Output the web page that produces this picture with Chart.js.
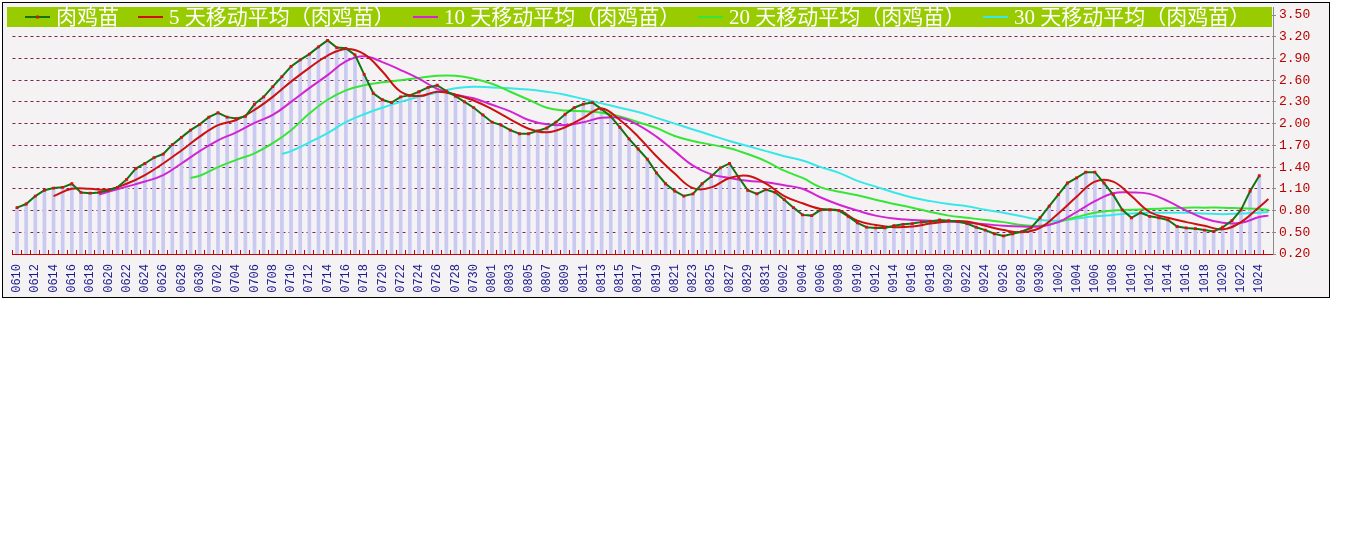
<!DOCTYPE html>
<html>
<head>
<meta charset="utf-8">
<script src="https://cdn.jsdelivr.net/npm/chart.js@4"></script>
<style>
html, body { margin: 0; padding: 0; background: #fff; }
#frame { position: absolute; left: 2px; top: 2px; width: 1326px; height: 294px; border: 1px solid #000; background: #f4f2f2; }
canvas { display: block; }
</style>
</head>
<body>
<div id="frame"><canvas id="chart" width="1326" height="294"></canvas></div>
<script>
// dates on the x axis (MMDD)
const junDays = ['0610','0611','0612','0613','0614','0615','0616','0617','0618','0619','0620','0621','0622','0623','0624','0625','0626','0627','0628','0629','0630'];
const julDays = ['0701','0702','0703','0704','0705','0706','0707','0708','0709','0710','0711','0712','0713','0714','0715','0716','0717','0718','0719','0720','0721','0722','0723','0724','0725','0726','0727','0728','0729','0730','0731'];
const augDays = ['0801','0802','0803','0804','0805','0806','0807','0808','0809','0810','0811','0812','0813','0814','0815','0816','0817','0818','0819','0820','0821','0822','0823','0824','0825','0826','0827','0828','0829','0830','0831'];
const sepDays = ['0901','0902','0903','0904','0905','0906','0907','0908','0909','0910','0911','0912','0913','0914','0915','0916','0917','0918','0919','0920','0921','0922','0923','0924','0925','0926','0927','0928','0929','0930'];
const octDays = ['1001','1002','1003','1004','1005','1006','1007','1008','1009','1010','1011','1012','1013','1014','1015','1016','1017','1018','1019','1020','1021','1022','1023','1024','1025'];
const dates = [...junDays, ...julDays, ...augDays, ...sepDays, ...octDays];

// daily price, 0610 .. 1024
const price = [
  0.84, 0.89, 1.00, 1.08, 1.11, 1.12, 1.17, 1.05, 1.04, 1.05,
  1.08, 1.12, 1.23, 1.38, 1.45, 1.53, 1.58, 1.71, 1.81, 1.91,
  1.99, 2.09, 2.15, 2.09, 2.07, 2.10, 2.27, 2.37, 2.51, 2.65,
  2.79, 2.88, 2.96, 3.06, 3.15, 3.05, 3.04, 2.95, 2.68, 2.42,
  2.33, 2.29, 2.37, 2.39, 2.44, 2.50, 2.53, 2.45, 2.38, 2.30,
  2.22, 2.12, 2.02, 1.98, 1.91, 1.86, 1.86, 1.90, 1.94, 2.02,
  2.13, 2.22, 2.27, 2.29, 2.20, 2.10, 1.95, 1.79, 1.65, 1.51,
  1.32, 1.17, 1.07, 1.00, 1.03, 1.17, 1.27, 1.39, 1.45, 1.26,
  1.08, 1.03, 1.09, 1.05, 0.95, 0.84, 0.74, 0.73, 0.81, 0.81,
  0.80, 0.72, 0.63, 0.57, 0.56, 0.56, 0.59, 0.61, 0.62, 0.64,
  0.65, 0.67, 0.66, 0.65, 0.62, 0.57, 0.53, 0.48, 0.45, 0.48,
  0.51, 0.56, 0.70, 0.86, 1.02, 1.18, 1.25, 1.33, 1.33, 1.18,
  1.02, 0.81, 0.70, 0.77, 0.72, 0.70, 0.67, 0.58, 0.56, 0.55,
  0.53, 0.51, 0.57, 0.66, 0.81, 1.07, 1.28
];

// moving averages, read at every other day
const ma5 = [
  ['0614',1.00],['0616',1.10],['0618',1.10],['0620',1.09],['0622',1.17],['0624',1.29],['0626',1.45],['0628',1.63],['0630',1.82],
  ['0702',1.98],['0704',2.05],['0706',2.19],['0708',2.37],['0710',2.58],['0712',2.77],['0714',2.94],['0716',3.03],['0718',2.96],
  ['0720',2.72],['0722',2.44],['0724',2.38],['0726',2.44],['0728',2.40],['0730',2.32],['0801',2.20],['0803',2.06],['0805',1.93],
  ['0807',1.88],['0809',1.95],['0811',2.08],['0813',2.21],['0815',2.05],['0817',1.82],['0819',1.55],['0821',1.31],['0823',1.11],
  ['0825',1.12],['0827',1.25],['0829',1.28],['0831',1.17],['0902',1.00],['0904',0.90],['0906',0.82],['0908',0.80],['0910',0.66],
  ['0912',0.60],['0914',0.57],['0916',0.58],['0918',0.62],['0920',0.65],['0922',0.65],['0924',0.59],['0926',0.53],['0928',0.50],
  ['0930',0.56],['1002',0.76],['1004',0.99],['1006',1.20],['1008',1.20],['1010',1.00],['1012',0.78],['1014',0.70],['1016',0.64],
  ['1018',0.59],['1020',0.54],['1022',0.64],['1024',0.85],['1025',0.96]
];
const ma10 = [
  ['0619',1.02],['0620',1.06],['0622',1.13],['0624',1.20],['0626',1.29],['0628',1.45],['0630',1.62],['0702',1.77],['0704',1.88],
  ['0706',2.01],['0708',2.12],['0710',2.30],['0712',2.49],['0714',2.67],['0716',2.86],['0718',2.93],['0720',2.85],['0722',2.74],
  ['0724',2.62],['0726',2.48],['0728',2.40],['0730',2.35],['0801',2.26],['0803',2.17],['0805',2.05],['0807',1.99],['0809',1.98],
  ['0811',2.02],['0813',2.08],['0815',2.08],['0817',1.98],['0819',1.82],['0821',1.62],['0823',1.42],['0825',1.30],['0827',1.25],
  ['0829',1.21],['0831',1.19],['0902',1.15],['0904',1.10],['0906',0.98],['0908',0.88],['0910',0.80],['0912',0.73],['0914',0.69],
  ['0916',0.67],['0918',0.66],['0920',0.65],['0922',0.63],['0924',0.61],['0926',0.59],['0928',0.58],['0930',0.58],['1002',0.64],
  ['1004',0.78],['1006',0.93],['1008',1.04],['1010',1.05],['1012',1.03],['1014',0.93],['1016',0.80],['1018',0.69],['1020',0.63],
  ['1022',0.63],['1024',0.71],['1025',0.73]
];
const ma20 = [
  ['0629',1.25],['0630',1.28],['0702',1.40],['0704',1.50],['0706',1.59],['0708',1.73],['0710',1.91],['0712',2.14],['0714',2.33],
  ['0716',2.46],['0718',2.53],['0720',2.57],['0722',2.60],['0724',2.63],['0726',2.66],['0728',2.66],['0730',2.62],['0801',2.55],
  ['0803',2.44],['0805',2.33],['0807',2.22],['0809',2.18],['0811',2.17],['0813',2.15],['0815',2.10],['0817',2.02],['0819',1.94],
  ['0821',1.83],['0823',1.76],['0825',1.71],['0827',1.66],['0829',1.58],['0831',1.48],['0902',1.35],['0904',1.25],['0906',1.12],
  ['0908',1.06],['0910',1.01],['0912',0.95],['0914',0.89],['0916',0.84],['0918',0.78],['0920',0.73],['0922',0.70],['0924',0.67],
  ['0926',0.64],['0928',0.60],['0930',0.59],['1002',0.64],['1004',0.71],['1006',0.77],['1008',0.80],['1010',0.81],['1012',0.82],
  ['1014',0.83],['1016',0.84],['1018',0.84],['1020',0.84],['1022',0.83],['1024',0.82],['1025',0.81]
];
const ma30 = [
  ['0709',1.58],['0710',1.62],['0712',1.74],['0714',1.87],['0716',2.02],['0718',2.13],['0720',2.22],['0722',2.30],['0724',2.37],
  ['0726',2.43],['0728',2.49],['0730',2.51],['0801',2.50],['0803',2.49],['0805',2.47],['0807',2.44],['0809',2.40],['0811',2.34],
  ['0813',2.28],['0815',2.22],['0817',2.16],['0819',2.08],['0821',2.00],['0823',1.92],['0825',1.84],['0827',1.76],['0829',1.69],
  ['0831',1.62],['0902',1.55],['0904',1.49],['0906',1.40],['0908',1.32],['0910',1.21],['0912',1.13],['0914',1.05],['0916',0.98],
  ['0918',0.93],['0920',0.89],['0922',0.86],['0924',0.81],['0926',0.77],['0928',0.72],['0930',0.67],['1002',0.66],['1004',0.69],
  ['1006',0.72],['1008',0.74],['1010',0.76],['1012',0.77],['1014',0.77],['1016',0.77],['1018',0.76],['1020',0.75],['1022',0.76],
  ['1024',0.77],['1025',0.78]
];

const yTicks = [0.20, 0.50, 0.80, 1.10, 1.40, 1.70, 2.00, 2.30, 2.60, 2.90, 3.20, 3.50];
const seriesNames = ['肉鸡苗', '5 天移动平均（肉鸡苗）', '10 天移动平均（肉鸡苗）', '20 天移动平均（肉鸡苗）', '30 天移动平均（肉鸡苗）'];

const toPoints = list => list.map(([x, y]) => ({ x, y }));

// green legend band drawn over the top of the plot
const legendBand = {
    id: 'legendBand',
    afterDraw(chart) {
        const ctx = chart.ctx;
        const area = chart.chartArea;
        const itemX = [22, 135, 410, 695, 980];
        const y = 14;
        ctx.save();
        // right axis line runs up to the top of the band
        ctx.strokeStyle = '#8a8a8a';
        ctx.lineWidth = 1;
        ctx.beginPath();
        ctx.moveTo(area.right + 0.5, 4);
        ctx.lineTo(area.right + 0.5, area.top);
        ctx.stroke();

        ctx.fillStyle = '#99cc00';
        ctx.fillRect(4, 4, 1265, 20);
        ctx.font = '21px "Liberation Serif", "Noto Sans CJK SC"';
        ctx.textBaseline = 'middle';
        chart.data.datasets.filter(ds => ds.type === 'line').forEach((ds, k) => {
            const x = itemX[k];
            ctx.strokeStyle = ds.borderColor;
            ctx.lineWidth = 2;
            ctx.beginPath();
            ctx.moveTo(x, y);
            ctx.lineTo(x + 25, y);
            ctx.stroke();
            if (k === 0) {
                ctx.fillStyle = ds.pointBackgroundColor;
                ctx.fillRect(x + 11, y - 1.5, 3, 3);
            }
            ctx.fillStyle = '#ffffff';
            ctx.fillText(ds.label, x + 31, y + 1);
        });
        ctx.restore();
    }
};

const lineStyle = { type: 'line', borderWidth: 2, pointRadius: 0, tension: 0.4, fill: false };

new Chart(document.getElementById('chart'), {
    type: 'bar',
    data: {
        labels: dates,
        datasets: [
            { type: 'bar', label: 'bars', data: price, backgroundColor: '#c9c9f2', barThickness: 3, order: 10 },
            { type: 'line', label: seriesNames[0], data: price, borderColor: '#137313', borderWidth: 2,
              pointStyle: 'rect', pointRadius: 2, pointBackgroundColor: '#d81010', pointBorderWidth: 0, tension: 0, order: 1 },
            { ...lineStyle, label: seriesNames[1], data: toPoints(ma5), borderColor: '#cc1111', order: 2 },
            { ...lineStyle, label: seriesNames[2], data: toPoints(ma10), borderColor: '#d324d3', order: 3 },
            { ...lineStyle, label: seriesNames[3], data: toPoints(ma20), borderColor: '#36e636', order: 4 },
            { ...lineStyle, label: seriesNames[4], data: toPoints(ma30), borderColor: '#38e8e8', order: 5 }
        ]
    },
    options: {
        responsive: false,
        animation: false,
        layout: { padding: { left: 7, top: 12, right: 0, bottom: 0 } },
        plugins: { legend: { display: false }, tooltip: { enabled: false } },
        scales: {
            x: {
                offset: true,
                border: { display: true, color: '#cc0000', width: 1 },
                grid: { drawOnChartArea: false, drawTicks: true, tickLength: -4, tickColor: '#cc0000', offset: true },
                ticks: {
                    autoSkip: false, maxRotation: 90, minRotation: 90, padding: 14,
                    color: '#1a1a90', font: { family: '"Liberation Mono", monospace', size: 12 },
                    callback(value, index) { return index % 2 === 0 ? this.getLabelForValue(value) : ''; }
                },
                afterFit(scale) { scale.height = 43; }
            },
            y: {
                position: 'right',
                min: 0.2,
                max: 3.5,
                border: { display: true, color: '#8a8a8a', dash: [3, 3] },
                grid: { color: '#7e2058', tickColor: '#8a8a8a', tickLength: 3, tickBorderDash: [] },
                ticks: {
                    padding: 3, color: '#b80000', font: { family: '"Liberation Mono", monospace', size: 13 },
                    callback: value => value.toFixed(2)
                },
                afterBuildTicks(scale) { scale.ticks = yTicks.map(value => ({ value })); },
                afterFit(scale) { scale.width = 56; }
            }
        }
    },
    plugins: [legendBand]
});
</script>
</body>
</html>
